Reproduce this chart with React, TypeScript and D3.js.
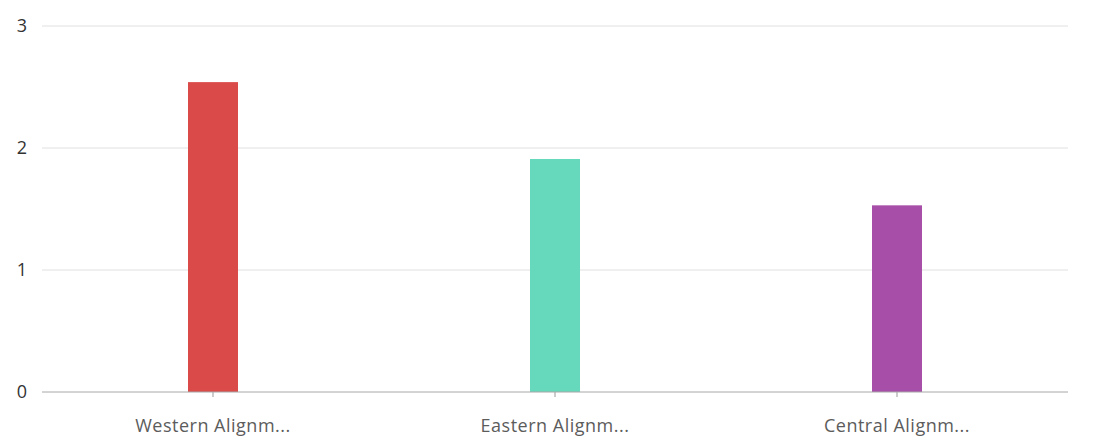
import React from "react";
import * as d3 from "d3";

const categories = ["Western Alignm...", "Eastern Alignm...", "Central Alignm..."];
const values = [2.54, 1.91, 1.53];
const colors = ["#da4a48", "#66d8bb", "#a64ea8"];
const yTicks = [0, 1, 2, 3];

const W = 1102;
const H = 445;
const margin = { left: 42, right: 34, top: 26, bottom: 53 };

export default function App() {
  const x = d3
    .scaleBand<string>()
    .domain(categories)
    .range([margin.left, W - margin.right])
    .paddingInner(0)
    .paddingOuter(0);
  const y = d3.scaleLinear().domain([0, 3]).range([H - margin.bottom, margin.top]);
  const barW = 50;
  const font = "'Open Sans', sans-serif";
  return (
    <svg
      width={W}
      height={H}
      style={{ position: "absolute", left: 0, top: 0, background: "#fff" }}
    >
      {yTicks.map((t) => (
        <g key={t}>
          {t !== 0 && (
            <line
              x1={margin.left}
              x2={W - margin.right}
              y1={y(t)}
              y2={y(t)}
              stroke="#e0e0e0"
              strokeWidth={1}
            />
          )}
          <text
            x={27}
            y={y(t)}
            dy="0.35em"
            textAnchor="end"
            fontFamily={font}
            fontSize={18}
            fill="#333"
          >
            {t}
          </text>
        </g>
      ))}
      {categories.map((c, i) => {
        const cx = (x(c) as number) + x.bandwidth() / 2;
        return (
          <g key={c}>
            <rect
              x={cx - barW / 2}
              y={y(values[i])}
              width={barW}
              height={y(0) - y(values[i])}
              fill={colors[i]}
            />
            <line x1={cx} x2={cx} y1={y(0)} y2={y(0) + 5} stroke="#999" />
            <text
              x={cx}
              y={432}
              textAnchor="middle"
              fontFamily={font}
              fontSize={18}
              letterSpacing={0.5}
              fill="#5c5c5c"
            >
              {c}
            </text>
          </g>
        );
      })}
      <line
        x1={margin.left}
        x2={W - margin.right}
        y1={y(0)}
        y2={y(0)}
        stroke="#a8a8a8"
        strokeWidth={1}
      />
    </svg>
  );
}
